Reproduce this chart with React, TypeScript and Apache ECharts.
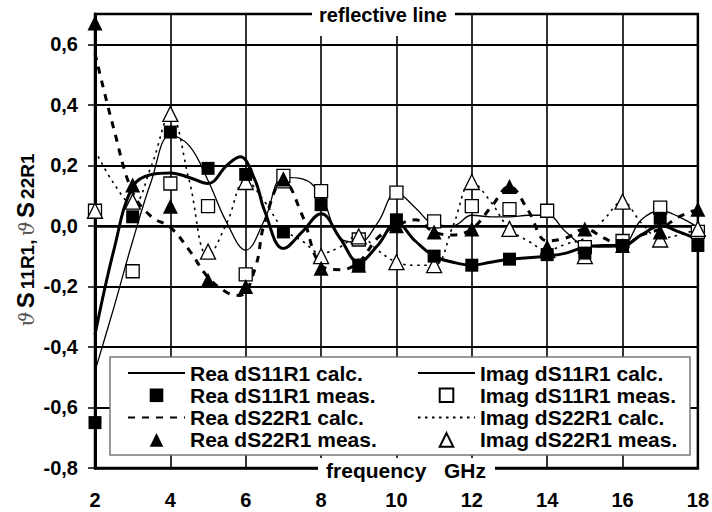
import React, { useEffect, useRef } from 'react';
import * as echarts from 'echarts';

// measured points (GHz)
const measFreq = [2, 3, 4, 5, 6, 7, 8, 9, 10, 11, 12, 13, 14, 15, 16, 17, 18];
const reaS11Meas = [-0.65, 0.03, 0.31, 0.19, 0.17, -0.02, 0.07, -0.13, 0.02, -0.1, -0.13, -0.11, -0.095, -0.09, -0.065, 0.025, -0.065];
const imS11Meas = [0.05, -0.15, 0.14, 0.065, -0.16, 0.165, 0.115, -0.045, 0.11, 0.015, 0.065, 0.055, 0.05, -0.07, -0.05, 0.06, -0.02];
const reaS22Meas = [0.67, 0.135, 0.065, -0.18, -0.2, 0.155, -0.14, -0.13, 0.0, -0.02, -0.01, 0.13, -0.07, -0.01, -0.065, -0.02, 0.055];
const imS22Meas = [0.05, 0.08, 0.37, -0.085, 0.145, 0.15, -0.1, -0.035, -0.12, -0.13, 0.145, -0.01, -0.08, -0.1, 0.08, -0.045, -0.01];

// calculated curves [GHz, value]
const reaS11Calc = [[2, -0.36], [2.5, -0.08], [3, 0.13], [3.5, 0.17], [4, 0.175], [4.5, 0.16], [5, 0.14], [5.5, 0.2], [5.85, 0.228], [6.25, 0.15], [6.5, 0.05], [7, -0.075], [7.5, -0.02], [8, 0.04], [8.5, -0.04], [9, -0.12], [9.5, -0.065], [10, 0.01], [10.5, -0.05], [11, -0.1], [11.5, -0.12], [12, -0.13], [12.5, -0.12], [13, -0.11], [13.5, -0.105], [14, -0.1], [14.5, -0.09], [15, -0.07], [15.5, -0.065], [16, -0.065], [16.5, -0.03], [17, 0.0], [17.5, -0.02], [18, -0.045]];
const imS11Calc = [[2, -0.48], [2.5, -0.27], [3, -0.05], [3.5, 0.15], [4, 0.3], [4.5, 0.265], [5, 0.15], [5.5, 0.01], [6, -0.08], [6.5, 0.02], [7, 0.16], [7.5, 0.155], [8, 0.1], [8.5, -0.04], [9, -0.055], [9.5, 0.01], [10, 0.11], [10.5, 0.06], [11, 0.005], [11.5, 0.0], [12, 0.035], [12.5, 0.03], [13, 0.03], [13.5, 0.035], [14, 0.035], [14.5, -0.02], [15, -0.065], [15.5, -0.07], [16, -0.065], [16.5, 0.02], [17, 0.05], [17.5, 0.03], [18, -0.005]];
const reaS22Calc = [[2, 0.57], [2.5, 0.32], [3, 0.11], [3.5, 0.03], [4, -0.005], [4.5, -0.08], [5, -0.17], [5.5, -0.22], [5.85, -0.23], [6.25, -0.14], [6.5, 0.01], [7, 0.15], [7.5, 0.035], [8, -0.13], [8.5, -0.145], [9, -0.12], [9.5, -0.04], [10, 0.0], [10.5, 0.02], [11, -0.02], [11.5, -0.03], [12, -0.01], [12.5, 0.06], [13, 0.13], [13.5, 0.05], [14, -0.05], [14.5, -0.04], [15, -0.01], [15.5, -0.04], [16, -0.065], [16.5, -0.03], [17, -0.01], [17.5, 0.03], [18, 0.055]];
const imS22Calc = [[2, 0.25], [2.5, 0.14], [3, 0.07], [3.5, 0.2], [4, 0.37], [4.5, 0.15], [5, -0.1], [5.5, 0.01], [6, 0.15], [6.5, 0.08], [7, -0.01], [7.5, -0.05], [8, -0.09], [8.5, -0.07], [9, -0.03], [9.5, -0.08], [10, -0.12], [10.5, -0.13], [11, -0.13], [11.5, 0.0], [12, 0.145], [12.5, 0.08], [13, -0.01], [13.5, -0.05], [14, -0.08], [14.5, -0.06], [15, -0.04], [15.5, 0.02], [16, 0.08], [16.5, 0.01], [17, -0.04], [17.5, -0.03], [18, -0.01]];

const legendLeft = ['Rea dS11R1 calc.', 'Rea dS11R1 meas.', 'Rea dS22R1 calc.', 'Rea dS22R1 meas.'];
const legendRight = ['Imag dS11R1 calc.', 'Imag dS11R1 meas.', 'Imag dS22R1 calc.', 'Imag dS22R1 meas.'];

const FONT = "'Liberation Sans', Arial, Helvetica, sans-serif";

export default function App() {
  const ref = useRef<HTMLDivElement>(null);
  useEffect(() => {
    const chart = echarts.init(ref.current!, null, { renderer: 'svg' });
    const pair = (vals: number[]) => measFreq.map((f, i) => [f, vals[i]]);
    const calc = (name: string, data: number[][], width: number, type: any, extra: any = {}) => ({
      name, type: 'line', data, smooth: 0.4, symbol: 'none', showSymbol: false, silent: true,
      lineStyle: { color: '#000', width, type }, itemStyle: { color: '#000', opacity: 0 }, z: 3, ...extra,
    });
    const meas = (name: string, vals: number[], symbol: string, filled: boolean) => ({
      name, type: 'line', data: pair(vals), symbol, symbolSize: symbol === 'rect' ? 13 : 15, showSymbol: true, silent: true,
      lineStyle: { width: 0, opacity: 0 },
      itemStyle: filled ? { color: '#000', opacity: 1 } : { color: '#fff', borderColor: '#000', borderWidth: 1.3, opacity: 1 },
      z: filled ? 6 : 5,
    });
    const legendCommon = {
      orient: 'vertical', top: 362, itemWidth: 57, itemHeight: 17, itemGap: 0.3, padding: 0, z: 60,
      selectedMode: false,
      textStyle: { fontFamily: FONT, fontSize: 21, fontWeight: 'bold', color: '#000', lineHeight: 22 },
    };
    chart.setOption({
      animation: false,
      backgroundColor: '#fff',
      grid: { left: 95, right: 12, top: 14, bottom: 44, show: true, borderColor: '#000', borderWidth: 2.5, backgroundColor: 'transparent' },
      xAxis: {
        type: 'value', min: 2, max: 18, interval: 2,
        axisLine: { show: true, onZero: false, lineStyle: { color: '#000', width: 2.5 } },
        axisTick: { show: false },
        axisLabel: { fontFamily: FONT, fontSize: 20, fontWeight: 'bold', color: '#000', margin: 22 },
        splitLine: { show: true, lineStyle: { color: '#000', width: 1.6 } },
      },
      yAxis: {
        type: 'value', min: -0.8, max: 0.7, interval: 0.2,
        axisLine: { show: true, onZero: false, lineStyle: { color: '#000', width: 3 } },
        axisTick: { show: true, length: 7, lineStyle: { color: '#000', width: 1.5 } },
        axisLabel: {
          fontFamily: FONT, fontSize: 20, fontWeight: 'bold', color: '#000', margin: 17, showMaxLabel: false,
          formatter: (v: number) => (Math.abs(v) < 1e-9 ? '0,0' : v.toFixed(1).replace('.', ',')),
        },
        splitLine: { show: true, lineStyle: { color: '#000', width: 1.8 } },
      },
      legend: [
        { ...legendCommon, left: 127, data: legendLeft },
        { ...legendCommon, left: 417, data: legendRight },
      ],
      series: [
        calc('Rea dS11R1 calc.', reaS11Calc, 3, 'solid', {
          markLine: { silent: true, symbol: ['none', 'none'], label: { show: false }, lineStyle: { color: '#000', width: 2.6, type: 'solid' }, data: [{ yAxis: 0 }] },
        }),
        calc('Imag dS11R1 calc.', imS11Calc, 1.3, 'solid'),
        calc('Rea dS22R1 calc.', reaS22Calc, 3, [7, 7]),
        calc('Imag dS22R1 calc.', imS22Calc, 1.6, [2.5, 4.5]),
        meas('Imag dS11R1 meas.', imS11Meas, 'rect', false),
        meas('Imag dS22R1 meas.', imS22Meas, 'triangle', false),
        meas('Rea dS11R1 meas.', reaS11Meas, 'rect', true),
        meas('Rea dS22R1 meas.', reaS22Meas, 'triangle', true),
      ],
      graphic: [
        { type: 'rect', shape: { x: 312, y: 0, width: 143, height: 36 }, style: { fill: '#fff' }, z: 50, silent: true },
        { type: 'text', x: 383, y: 15, z: 51, silent: true, style: { text: 'reflective line', fontFamily: FONT, fontSize: 20, fontWeight: 'bold', fill: '#000', align: 'center', verticalAlign: 'middle' } },
        { type: 'rect', shape: { x: 318, y: 458, width: 177, height: 23 }, style: { fill: '#fff' }, z: 50, silent: true },
        { type: 'text', x: 406, y: 470, z: 51, silent: true, style: { text: 'frequency   GHz', fontFamily: FONT, fontSize: 21, fontWeight: 'bold', fill: '#000', align: 'center', verticalAlign: 'middle' } },
        { type: 'rect', shape: { x: 110, y: 357, width: 580, height: 98 }, style: { fill: '#fff', stroke: '#777', lineWidth: 1.5 }, z: 50, silent: true },
        {
          type: 'text', x: 23, y: 240, rotation: Math.PI / 2, z: 51, silent: true,
          style: {
            text: '{d|ϑ} {s|S}{n|11R1,} {d|ϑ} {s|S}{n|22R1}',
            align: 'center', verticalAlign: 'middle',
            rich: {
              d: { fontFamily: "'DejaVu Serif', serif", fontStyle: 'italic', fontSize: 21, fill: '#555', lineHeight: 28, verticalAlign: 'bottom' },
              s: { fontFamily: FONT, fontSize: 24, fontWeight: 'bold', fill: '#000', lineHeight: 28, verticalAlign: 'bottom', padding: [0, 3, 0, 0] },
              n: { fontFamily: FONT, fontSize: 19, fontWeight: 'bold', fill: '#000', lineHeight: 28, verticalAlign: 'bottom' },
            },
          },
        },
      ],
    });
    return () => chart.dispose();
  }, []);
  return <div ref={ref} style={{ position: 'absolute', left: 0, top: 0, width: 712, height: 512 }} />;
}
